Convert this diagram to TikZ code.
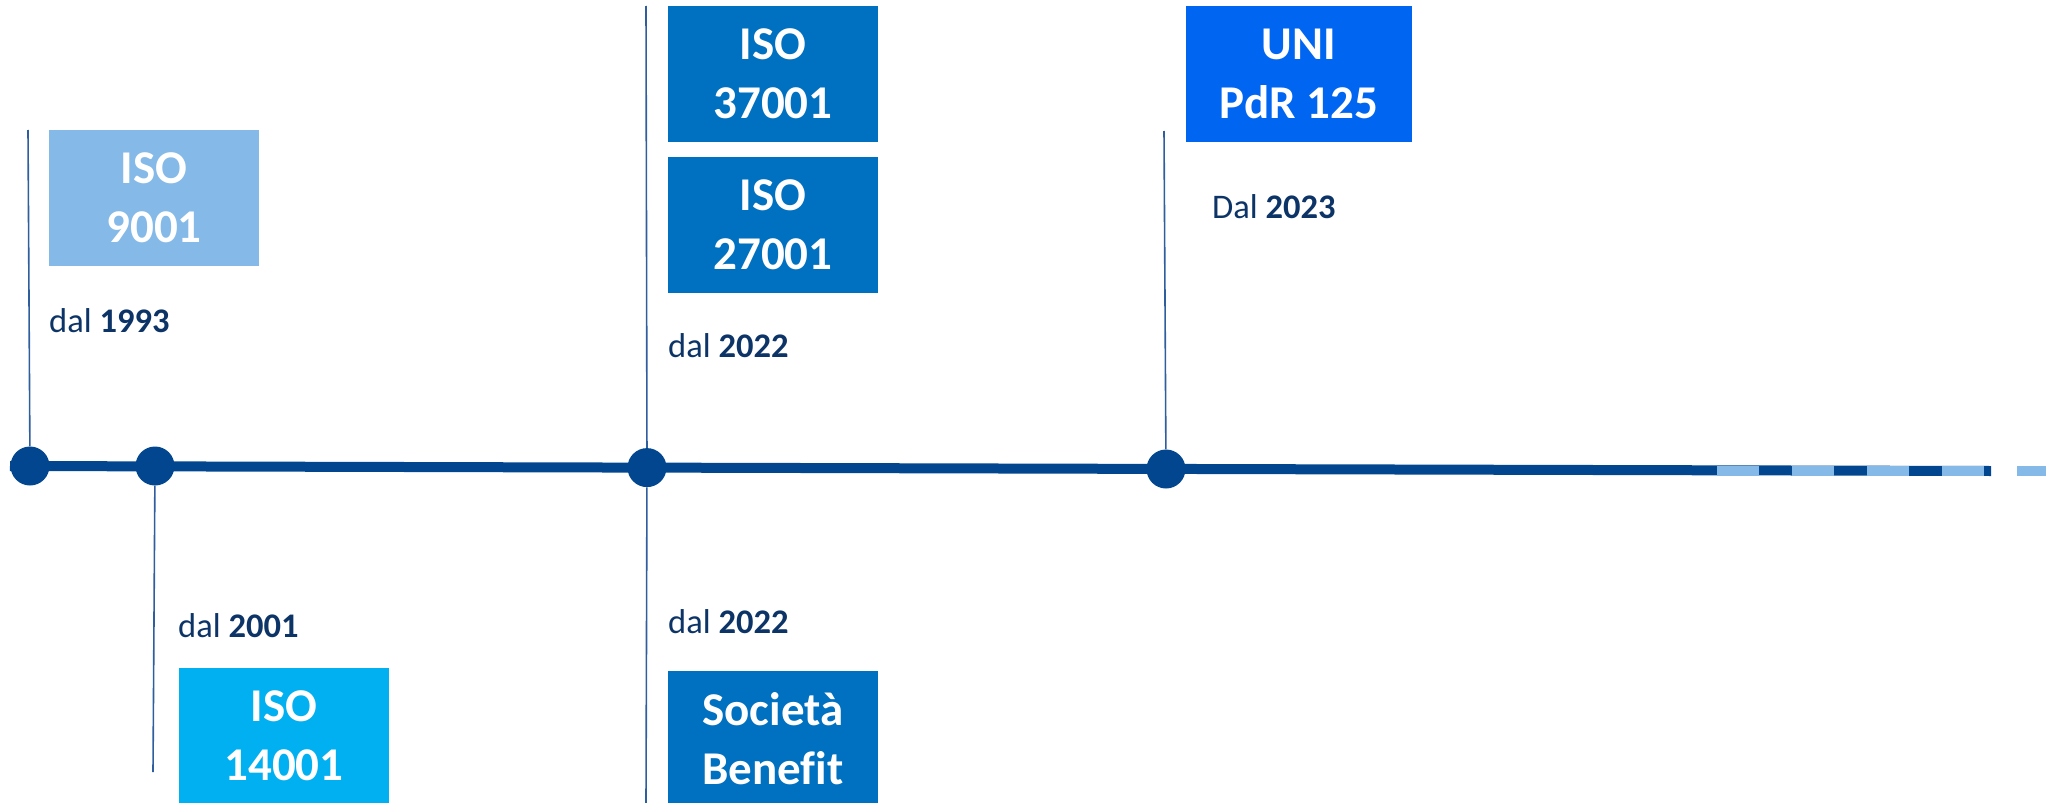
\documentclass[tikz,border=0pt]{standalone}
\usepackage{fontspec}
\setmainfont{Carlito}[Ligatures=NoCommon]
\definecolor{lineblue}{HTML}{02468F}
\definecolor{stemblue}{HTML}{2F5E9F}
\definecolor{dashblue}{HTML}{85B9E7}
\definecolor{navy}{HTML}{0D3467}
\definecolor{c9001}{HTML}{85B9E7}
\definecolor{c14001}{HTML}{00B0F0}
\definecolor{c37001}{HTML}{0070C0}
\definecolor{cuni}{HTML}{0066F2}
\tikzset{
  certbox/.style={fill=#1, text=white, font=\fontsize{47}{59}\selectfont\bfseries, align=center, minimum width=210pt, minimum height=136pt, inner sep=0pt},
  since/.style={text=navy, font=\fontsize{34.5}{42}\selectfont, inner sep=0pt, anchor=base west},
  tldot/.style={circle, fill=lineblue, minimum size=39pt, inner sep=0pt},
  stem/.style={draw=stemblue, line width=1.6pt},
  mainline/.style={draw=lineblue, line width=10pt},
  dashline/.style={draw=dashblue, line width=10pt, dash pattern=on 42pt off 33pt}
}

\begin{document}
\begin{tikzpicture}[x=1pt, y=-1pt]
\useasboundingbox (0,0) rectangle (2046,803);
\coordinate (tlstart) at (10,466);
\coordinate (tlend) at (1991,471);
\coordinate (dashstart) at (1717,471);
\coordinate (dashend) at (2080,471);
\draw[mainline] (tlstart) -- (tlend);
\draw[dashline] (dashstart) -- (dashend);

\coordinate (top1993) at (28,130);
\coordinate (bot2001) at (153,772);
\coordinate (top2022) at (646,6);
\coordinate (bot2022) at (646,803);
\coordinate (top2023) at (1164,131);

\node[tldot] (d1993) at (30,466) {};
\node[tldot] (d2001) at (155,466) {};
\node[tldot] (d2022) at (647,467.6) {};
\node[tldot] (d2023) at (1166,469) {};

\draw[stem] (d1993) -- (top1993);
\draw[stem] (d2001) -- (bot2001);
\draw[stem] (d2022) -- (top2022);
\draw[stem] (d2022) -- (bot2022);
\draw[stem] (d2023) -- (top2023);

\node[certbox=c9001] (iso9001) at (154,198) {ISO\\9001};
\node[certbox=c14001] (iso14001) at (284,736) {ISO\\14001};
\node[certbox=c37001] (iso37001) at (773,74) {ISO\\37001};
\node[certbox=c37001] (iso27001) at (773,225) {ISO\\27001};
\node[certbox=c37001] (benefit) at (773,739) {Società\\Benefit};
\node[certbox=cuni, minimum width=226pt] (unipdr) at (1299,74) {UNI\\PdR 125};

\node[since] (y1993) at (49,332) {dal \textbf{1993}};
\node[since] (y2001) at (178,637) {dal \textbf{2001}};
\node[since] (y2022a) at (668,357) {dal \textbf{2022}};
\node[since] (y2022b) at (668,633) {dal \textbf{2022}};
\node[since] (y2023) at (1212,218) {Dal \textbf{2023}};
\end{tikzpicture}
\end{document}
